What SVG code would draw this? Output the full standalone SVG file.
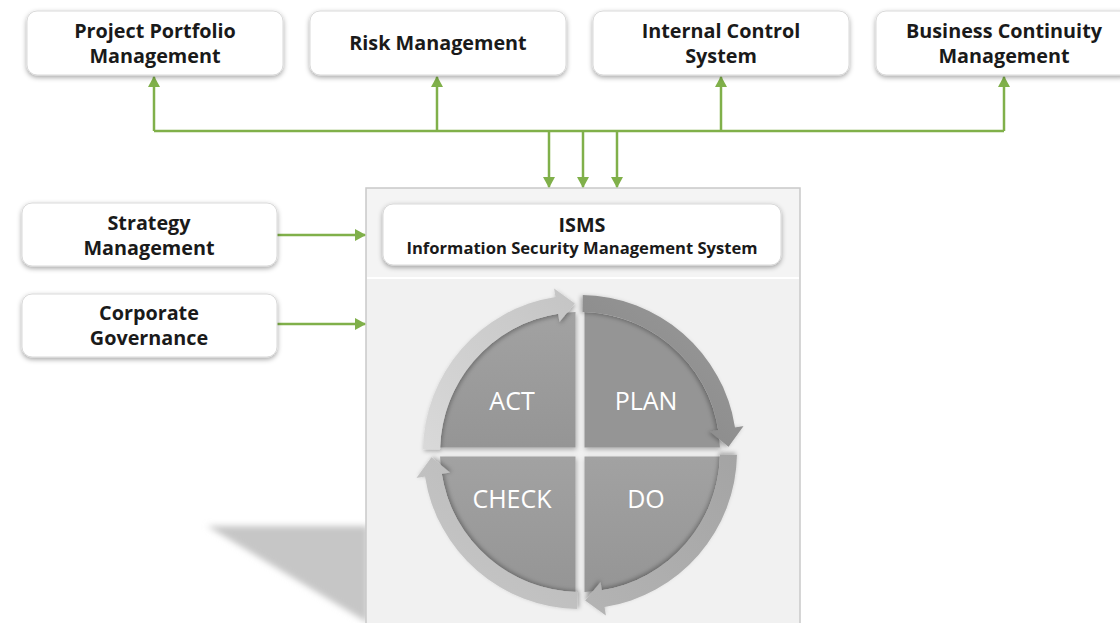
<svg xmlns="http://www.w3.org/2000/svg" width="1120" height="623" viewBox="0 0 1120 623">
  <style>
    .box { fill: #ffffff; stroke: #d9d9d9; stroke-width: 1; filter: url(#boxShadow); }
    .lbl { font-family: "Open Sans", "Liberation Sans", sans-serif; font-weight: 700; font-size: 19.8px; fill: #1a1a1a; text-anchor: middle; }
    .lbl2 { font-family: "Open Sans", "Liberation Sans", sans-serif; font-weight: 700; font-size: 16.6px; fill: #1a1a1a; text-anchor: middle; }
    .pdca { font-family: "Open Sans", "Liberation Sans", sans-serif; font-weight: 400; font-size: 25px; fill: #ffffff; text-anchor: middle; }
    .conn { stroke: #80b04a; stroke-width: 2.5; fill: none; }
    .quad { filter: url(#quadShadow); }
    .ring { filter: url(#ringShadow); }
  </style>
  <defs>
    <filter id="boxShadow" x="-10%" y="-20%" width="120%" height="150%">
      <feGaussianBlur in="SourceAlpha" stdDeviation="2.5"/>
      <feOffset dx="0" dy="2" result="b"/>
      <feFlood flood-color="#000" flood-opacity="0.35"/>
      <feComposite in2="b" operator="in"/>
      <feMerge><feMergeNode/><feMergeNode in="SourceGraphic"/></feMerge>
    </filter>
    <filter id="quadShadow" x="-20%" y="-20%" width="140%" height="140%">
      <feGaussianBlur in="SourceAlpha" stdDeviation="2.5"/>
      <feOffset dx="1" dy="2" result="b"/>
      <feFlood flood-color="#000" flood-opacity="0.3"/>
      <feComposite in2="b" operator="in"/>
      <feMerge><feMergeNode/><feMergeNode in="SourceGraphic"/></feMerge>
    </filter>
    <filter id="ringShadow" x="-20%" y="-20%" width="140%" height="140%">
      <feGaussianBlur in="SourceAlpha" stdDeviation="2"/>
      <feOffset dx="1" dy="2" result="b"/>
      <feFlood flood-color="#000" flood-opacity="0.3"/>
      <feComposite in2="b" operator="in"/>
      <feMerge><feMergeNode/><feMergeNode in="SourceGraphic"/></feMerge>
    </filter>
    <filter id="triBlur" x="-20%" y="-20%" width="140%" height="140%">
      <feGaussianBlur stdDeviation="3"/>
    </filter>
    <linearGradient id="qGrad" x1="0" y1="0" x2="0" y2="1">
      <stop offset="0" stop-color="#a2a2a2"/>
      <stop offset="1" stop-color="#959595"/>
    </linearGradient>
    <linearGradient id="gAct" x1="0" y1="1" x2="1" y2="0">
      <stop offset="0" stop-color="#d9d9d9"/>
      <stop offset="1" stop-color="#c4c4c4"/>
    </linearGradient>
    <linearGradient id="gPlan" x1="0" y1="0" x2="1" y2="1">
      <stop offset="0" stop-color="#9a9a9a"/>
      <stop offset="1" stop-color="#858585"/>
    </linearGradient>
    <linearGradient id="gDo" x1="1" y1="0" x2="0" y2="1">
      <stop offset="0" stop-color="#b4b4b4"/>
      <stop offset="1" stop-color="#a4a4a4"/>
    </linearGradient>
    <linearGradient id="gCheck" x1="1" y1="1" x2="0" y2="0">
      <stop offset="0" stop-color="#b8b8b8"/>
      <stop offset="1" stop-color="#c8c8c8"/>
    </linearGradient>
    <marker id="arr" markerUnits="userSpaceOnUse" markerWidth="11" markerHeight="12" refX="10" refY="6" orient="auto">
      <path d="M0,0 L11,6 L0,12 z" fill="#80b04a"/>
    </marker>
    <path id="ringArrow" d="M-156.98,-2.74 A157,157 0 0 1 -24.56,-155.07 L-25.89,-163.46 L-5.18,-148.41 L-20.57,-129.88 L-21.90,-138.28 A140,140 0 0 0 -139.98,-2.44 Z"/>
  </defs>

  <rect x="0" y="0" width="1120" height="623" fill="#ffffff"/>

  <!-- shadow behind container -->
  <polygon points="207,526 368,526 368,623" fill="#c6c6c6" filter="url(#triBlur)"/>

  <!-- ISMS container -->
  <g id="isms-container">
    <rect x="366" y="188" width="434" height="445" fill="#f1f1f1" stroke="#c9c9c9" stroke-width="1.5"/>
    <rect x="367" y="189" width="432" height="89" fill="#f4f4f4"/>
    <line x1="367" y1="278" x2="799" y2="278" stroke="#ffffff" stroke-width="2"/>
  </g>

  <!-- connectors -->
  <g id="connectors">
    <path class="conn" d="M154,131 H1004"/>
    <path class="conn" d="M154,131 V77" marker-end="url(#arr)"/>
    <path class="conn" d="M437,131 V77" marker-end="url(#arr)"/>
    <path class="conn" d="M721,131 V77" marker-end="url(#arr)"/>
    <path class="conn" d="M1004,131 V77" marker-end="url(#arr)"/>
    <path class="conn" d="M549,131 V187" marker-end="url(#arr)"/>
    <path class="conn" d="M583,131 V187" marker-end="url(#arr)"/>
    <path class="conn" d="M617,131 V187" marker-end="url(#arr)"/>
    <path class="conn" d="M277,235 H365" marker-end="url(#arr)"/>
    <path class="conn" d="M277,324 H365" marker-end="url(#arr)"/>
  </g>

  <!-- top nodes -->
  <g id="node-ppm">
    <rect class="box" x="27" y="11" width="256" height="64" rx="10"/>
    <text class="lbl" x="155" y="38">Project Portfolio</text>
    <text class="lbl" x="155" y="63">Management</text>
  </g>
  <g id="node-risk">
    <rect class="box" x="310" y="11" width="256" height="64" rx="10"/>
    <text class="lbl" x="438" y="50">Risk Management</text>
  </g>
  <g id="node-ics">
    <rect class="box" x="593" y="11" width="256" height="64" rx="10"/>
    <text class="lbl" x="721" y="38">Internal Control</text>
    <text class="lbl" x="721" y="63">System</text>
  </g>
  <g id="node-bcm">
    <rect class="box" x="876" y="11" width="256" height="64" rx="10"/>
    <text class="lbl" x="1004" y="38">Business Continuity</text>
    <text class="lbl" x="1004" y="63">Management</text>
  </g>

  <!-- left nodes -->
  <g id="node-strategy">
    <rect class="box" x="22" y="203" width="255" height="63" rx="10"/>
    <text class="lbl" x="149" y="230">Strategy</text>
    <text class="lbl" x="149" y="255">Management</text>
  </g>
  <g id="node-governance">
    <rect class="box" x="22" y="294" width="255" height="63" rx="10"/>
    <text class="lbl" x="149" y="320">Corporate</text>
    <text class="lbl" x="149" y="345">Governance</text>
  </g>

  <!-- ISMS title -->
  <g id="node-isms">
    <rect class="box" x="383" y="204" width="398" height="61" rx="10"/>
    <text class="lbl" x="582" y="232">ISMS</text>
    <text class="lbl2" x="582" y="254">Information Security Management System</text>
  </g>

  <!-- PDCA cycle -->
  <g id="pdca">
    <path class="quad" d="M575.5,447.5 L440.07,447.5 A140,140 0 0 1 575.5,312.07 Z" fill="url(#qGrad)"/>
    <path class="quad" d="M584.5,447.5 L584.5,312.07 A140,140 0 0 1 719.93,447.5 Z" fill="#959595"/>
    <path class="quad" d="M584.5,456.5 L719.93,456.5 A140,140 0 0 1 584.5,591.93 Z" fill="url(#qGrad)"/>
    <path class="quad" d="M575.5,456.5 L575.5,591.93 A140,140 0 0 1 440.07,456.5 Z" fill="url(#qGrad)"/>
    <use href="#ringArrow" class="ring" transform="translate(580,452)" fill="url(#gAct)"/>
    <use href="#ringArrow" class="ring" transform="translate(580,452) rotate(90)" fill="url(#gPlan)"/>
    <use href="#ringArrow" class="ring" transform="translate(580,452) rotate(180)" fill="url(#gDo)"/>
    <use href="#ringArrow" class="ring" transform="translate(580,452) rotate(270)" fill="url(#gCheck)"/>
    <text class="pdca" x="512" y="410">ACT</text>
    <text class="pdca" x="646" y="410">PLAN</text>
    <text class="pdca" x="512" y="508">CHECK</text>
    <text class="pdca" x="646" y="508">DO</text>
  </g>
</svg>
